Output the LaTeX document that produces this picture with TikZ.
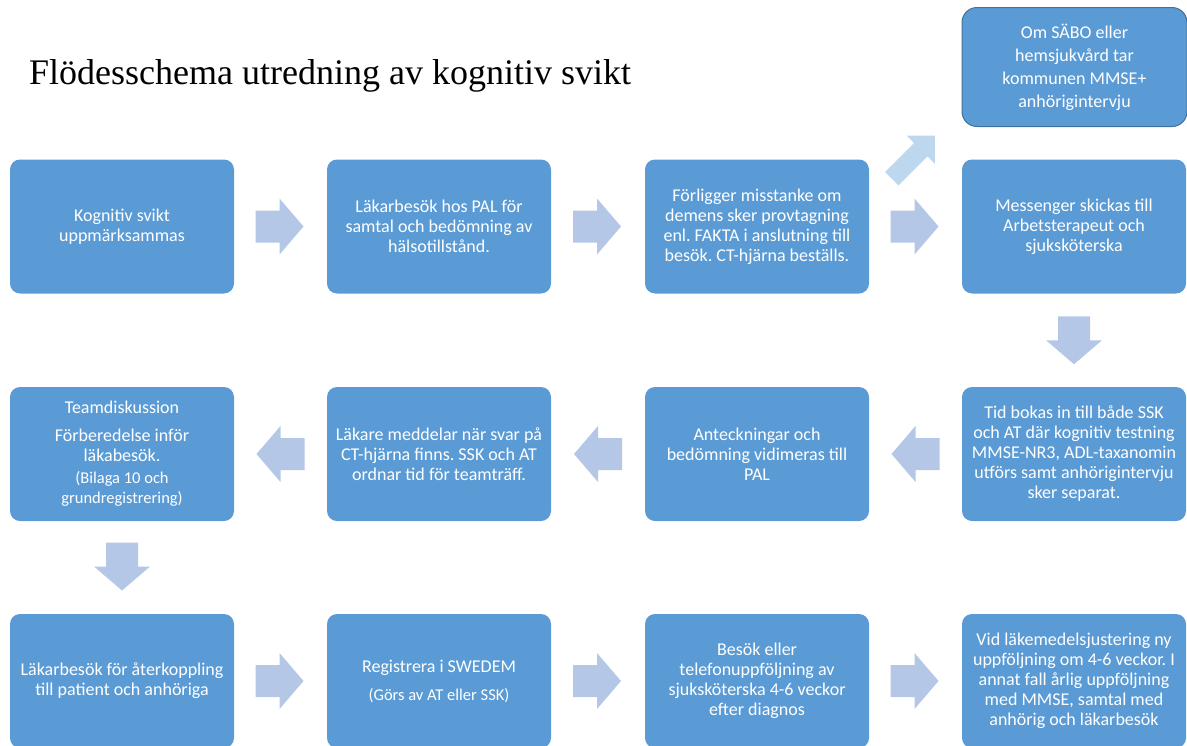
\documentclass[tikz,border=0pt]{standalone}
\usepackage{fontspec}
\setmainfont{Carlito}
\newfontfamily\titlefont{Liberation Serif}
\usetikzlibrary{calc}
\frenchspacing
\definecolor{boxblue}{HTML}{5B9BD5}
\definecolor{boxedge}{HTML}{41719C}
\definecolor{arrowblue}{HTML}{B4C7E7}
\definecolor{arrowpale}{HTML}{BDD7EE}
\tikzset{
 stepbox/.style={fill=boxblue, draw=none, rounded corners=10pt, minimum width=224pt, minimum height=134pt, inner sep=0pt, text=white, align=center, font=\frenchspacing\fontsize{18}{20}\selectfont},
 pics/blockarrow/.style={code={\fill[arrowblue] (-24,-16) -- (0,-16) -- (0,-28) -- (24,0) -- (0,28) -- (0,16) -- (-24,16) -- cycle;}},
 pics/diagarrow/.style={code={\fill[arrowpale] (-30.5,-9.5) -- (10.5,-9.5) -- (10.5,-20) -- (30.5,0) -- (10.5,20) -- (10.5,9.5) -- (-30.5,9.5) -- cycle;}},
}
\begin{document}
\begin{tikzpicture}[x=1pt,y=-1pt]
\path[use as bounding box] (0,0) rectangle (1187,745);
\clip (0,0) rectangle (1187,745);

\node[anchor=base west, inner sep=0pt, font=\titlefont\fontsize{36}{40}\selectfont] (title) at (29,84) {Flödesschema utredning av kognitiv svikt};

\node[stepbox, draw=boxedge, line width=1pt, rounded corners=15pt, minimum width=225pt, minimum height=119pt, font=\frenchspacing\fontsize{18}{23}\selectfont] (om) at (1074.5,67) {Om SÄBO eller\\hemsjukvård tar\\kommunen MMSE+\\anhörigintervju};

% row 1
\node[stepbox] (a1) at (122,226.5) {Kognitiv svikt\\uppmärksammas};
\node[stepbox] (a2) at (439,226.5) {Läkarbesök hos PAL för\\samtal och bedömning av\\hälsotillstånd.};
\node[stepbox] (a3) at (757,226.5) {Förligger misstanke om\\demens sker provtagning\\enl. FAKTA i anslutning till\\besök. CT-hjärna beställs.};
\node[stepbox] (a4) at (1074,226.5) {Messenger skickas till\\Arbetsterapeut och\\sjuksköterska};

% row 2
\node[stepbox] (b1) at (122,454) {Teamdiskussion\\[8pt]Förberedelse inför\\läkabesök.\\[2pt]{\fontsize{16.5}{20}\selectfont(Bilaga 10 och}\\{\fontsize{16.5}{20}\selectfont grundregistrering)}};
\node[stepbox] (b2) at (439,454) {Läkare meddelar när svar på\\CT-hjärna finns. SSK och AT\\ordnar tid för teamträff.};
\node[stepbox] (b3) at (757,454) {Anteckningar och\\bedömning vidimeras till\\PAL};
\node[stepbox] (b4) at (1074,454) {Tid bokas in till både SSK\\och AT där kognitiv testning\\MMSE-NR3, ADL-taxanomin\\utförs samt anhörigintervju\\sker separat.};

% row 3
\node[stepbox] (c1) at (122,681) {Läkarbesök för återkoppling\\till patient och anhöriga};
\node[stepbox] (c2) at (439,681) {Registrera i SWEDEM\\[8pt]{\fontsize{16.5}{20}\selectfont(Görs av AT eller SSK)}};
\node[stepbox] (c3) at (757,681) {Besök eller\\telefonuppföljning av\\sjuksköterska 4-6 veckor\\efter diagnos};
\node[stepbox] (c4) at (1074,681) {Vid läkemedelsjustering ny\\uppföljning om 4-6 veckor. I\\annat fall årlig uppföljning\\med MMSE, samtal med\\anhörig och läkarbesök};

% arrows row 1
\pic at ($(a1.east)!0.5!(a2.west)+(-1,0)$) {blockarrow};
\pic at ($(a2.east)!0.5!(a3.west)+(-1,0)$) {blockarrow};
\pic at ($(a3.east)!0.5!(a4.west)+(-1,0)$) {blockarrow};
\pic[rotate=45] at ($(a3.north east)!0.5!(om.south west)+(-2,14)$) {diagarrow};
% down right
\pic[rotate=-90] at ($(a4.south)!0.5!(b4.north)$) {blockarrow};
% arrows row 2
\pic[rotate=180] at ($(b4.west)!0.5!(b3.east)$) {blockarrow};
\pic[rotate=180] at ($(b3.west)!0.5!(b2.east)$) {blockarrow};
\pic[rotate=180] at ($(b2.west)!0.5!(b1.east)$) {blockarrow};
% down left
\pic[rotate=-90] at ($(b1.south)!0.5!(c1.north)+(0,-1)$) {blockarrow};
% arrows row 3
\pic at ($(c1.east)!0.5!(c2.west)+(-1,0)$) {blockarrow};
\pic at ($(c2.east)!0.5!(c3.west)+(-1,0)$) {blockarrow};
\pic at ($(c3.east)!0.5!(c4.west)+(-1,0)$) {blockarrow};
\end{tikzpicture}
\end{document}
